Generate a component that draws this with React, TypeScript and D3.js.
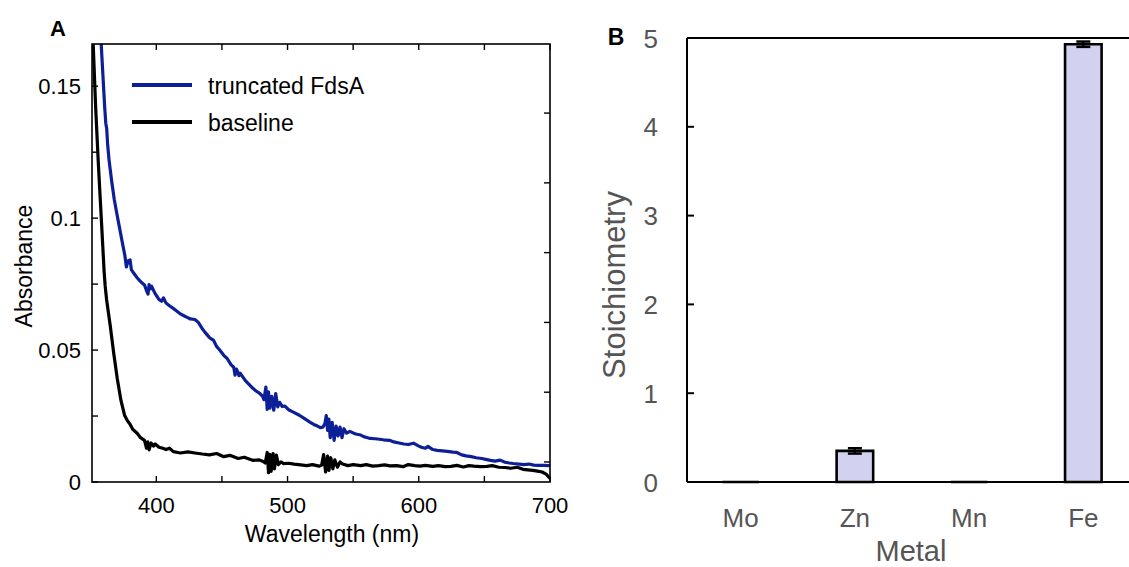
import React from "react";
import * as d3 from "d3";

// ---------- Panel A data ----------
const blueWl = [358, 360.7, 361.5, 362.2, 362.9, 364, 366, 368, 370.3, 372.5, 374.5, 376, 377.2, 378.5, 380, 381, 383, 385.4, 387, 389, 391, 392.5, 393.7, 394.5, 395.5, 396.4, 399, 402, 404, 405.5, 407.4, 410, 412.9, 415, 418.4, 421, 423.9, 426, 429.4, 432, 434.9, 437, 440.4, 442, 443.5, 445.9, 448, 451.4, 454, 456.9, 459, 460, 461, 462, 463, 464, 467.9, 471, 473.4, 476, 478.8, 481, 482, 483.5, 484.5, 485.5, 486.5, 488, 489.5, 491, 492.5, 494, 496, 498, 500.8, 504, 509, 513, 517.3, 520, 522.8, 525, 527, 528.5, 529.5, 530.5, 531.5, 532.5, 534, 535.5, 537, 538.5, 540, 541.5, 543, 545, 547.5, 550, 552, 555.8, 558, 561, 563, 566.8, 570, 573, 577.7, 581, 585, 588.7, 592, 596, 599.7, 602, 605, 607, 610.7, 614, 618, 621.7, 626, 629, 632.7, 636, 640, 643.7, 648, 651, 654.7, 658, 662, 665.7, 669, 672, 676.6, 680, 684, 687.6, 691, 695, 700];
const blueAbs = [0.166, 0.1418, 0.136, 0.134, 0.128, 0.122, 0.114, 0.107, 0.1007, 0.095, 0.0897, 0.086, 0.0815, 0.0838, 0.0842, 0.0805, 0.079, 0.0774, 0.0765, 0.0755, 0.0747, 0.0726, 0.0712, 0.0748, 0.0732, 0.0742, 0.0715, 0.0692, 0.0685, 0.0698, 0.0678, 0.0668, 0.0658, 0.065, 0.0637, 0.063, 0.0623, 0.0618, 0.0616, 0.0605, 0.0582, 0.0568, 0.0548, 0.0542, 0.0538, 0.0514, 0.0502, 0.048, 0.0468, 0.0445, 0.0435, 0.0405, 0.0428, 0.0418, 0.0403, 0.0412, 0.0384, 0.0368, 0.0356, 0.0345, 0.0336, 0.0325, 0.0312, 0.036, 0.0275, 0.0342, 0.028, 0.0325, 0.0272, 0.0335, 0.0285, 0.0302, 0.0286, 0.0288, 0.0274, 0.0266, 0.0253, 0.024, 0.0226, 0.0218, 0.0212, 0.0206, 0.0208, 0.0222, 0.0252, 0.0196, 0.0238, 0.0168, 0.0226, 0.0158, 0.0212, 0.0175, 0.0208, 0.0168, 0.0202, 0.0185, 0.0192, 0.0186, 0.0182, 0.0178, 0.0172, 0.0168, 0.0165, 0.0164, 0.0162, 0.016, 0.0158, 0.0152, 0.0148, 0.0144, 0.0142, 0.0147, 0.0137, 0.0132, 0.0128, 0.0135, 0.0123, 0.012, 0.0118, 0.0116, 0.0113, 0.0112, 0.0103, 0.0099, 0.0096, 0.0092, 0.0089, 0.0086, 0.0082, 0.0079, 0.0083, 0.0075, 0.0072, 0.007, 0.0068, 0.0066, 0.0068, 0.0064, 0.0063, 0.0063, 0.0062];

const blackWl = [351.9, 353.8, 355.8, 358, 360.2, 361, 362.1, 364.8, 367.6, 370.3, 373.1, 375.8, 378, 380, 382, 385.4, 388, 391, 392.5, 393.5, 394.5, 396, 398, 399.2, 402, 405, 407.4, 410, 413, 418.4, 424, 429.4, 435, 440.4, 446, 451.4, 456, 462.4, 467, 473.4, 478, 481.5, 483, 484.5, 485.5, 486.5, 487.5, 489, 490, 491.5, 493, 495, 497, 500.8, 505, 510, 514.6, 519, 524, 526, 527.5, 529, 530.5, 531.5, 533, 534.5, 536, 538, 540, 542, 546, 550, 555.8, 560, 565, 569.5, 574, 578, 583.2, 588, 592, 597, 601, 605, 610.7, 615, 620, 624.5, 629, 634, 638.2, 642, 647, 652, 656, 661, 665.7, 670, 675, 679.4, 683, 687, 690.4, 694, 697, 700];
const blackAbs = [0.166, 0.1418, 0.121, 0.1007, 0.0801, 0.0745, 0.0692, 0.0596, 0.0486, 0.039, 0.0308, 0.0253, 0.0232, 0.0219, 0.02, 0.0185, 0.0168, 0.0158, 0.0128, 0.0152, 0.0122, 0.0148, 0.0136, 0.0144, 0.0132, 0.0128, 0.0123, 0.0128, 0.0115, 0.011, 0.0114, 0.011, 0.0106, 0.0103, 0.0108, 0.0096, 0.0101, 0.0089, 0.0094, 0.0082, 0.0084, 0.0078, 0.0072, 0.0112, 0.0035, 0.0105, 0.004, 0.0108, 0.005, 0.0102, 0.0066, 0.0076, 0.007, 0.0071, 0.0068, 0.0065, 0.0062, 0.0066, 0.006, 0.0064, 0.0104, 0.0038, 0.0098, 0.0044, 0.0092, 0.005, 0.0084, 0.0056, 0.0076, 0.0068, 0.0062, 0.0066, 0.0062, 0.0066, 0.006, 0.0062, 0.0065, 0.0061, 0.0062, 0.0058, 0.0066, 0.0062, 0.006, 0.0063, 0.0059, 0.0062, 0.0058, 0.0059, 0.0063, 0.0057, 0.0062, 0.006, 0.0058, 0.0059, 0.0062, 0.0056, 0.0055, 0.0052, 0.0056, 0.0048, 0.0046, 0.0044, 0.0041, 0.0038, 0.003, 0.0014];

const xTicksA = [400, 500, 600, 700];
const xMinorA = [400, 450, 500, 550, 600, 650, 700];
const yTicksA = [0, 0.05, 0.1, 0.15];
const yMinorA = [0.025, 0.075, 0.125];
const rightTicksA = [0, 1, 2, 3, 4, 5];
const legendLabels = ["truncated FdsA", "baseline"];
const legendColors = ["#0d1f97", "#000000"];

// ---------- Panel B data ----------
const metals = ["Mo", "Zn", "Mn", "Fe"];
const stoich = [0, 0.35, 0, 4.93];
const stoichErr = [0, 0.03, 0, 0.03];
const yTicksB = [0, 1, 2, 3, 4, 5];

const FONT = "'Liberation Sans', Arial, Helvetica, sans-serif";

export default function App() {
  // Panel A geometry
  const aL = 92, aR = 550, aT = 44, aB = 482;
  const x = d3.scaleLinear().domain([351, 700]).range([aL, aR]);
  const y = d3.scaleLinear().domain([0, 0.166]).range([aB, aT]);
  const yRight = d3.scaleLinear().domain([-0.287, 5.99]).range([aB, aT]);
  const blueLine = d3.line<number>().x((_, i) => x(blueWl[i])).y((d) => y(d));
  const blackLine = d3.line<number>().x((_, i) => x(blackWl[i])).y((d) => y(d));

  // Panel B geometry
  const bL = 687, bR = 1137, bT = 38, bB = 482;
  const xb = d3.scalePoint<string>().domain(metals).range([bL, bR]).padding(0.47);
  const yb = d3.scaleLinear().domain([0, 5]).range([bB, bT]);
  const barW = xb.step() * 0.32;
  const tick = 6;

  return (
    <svg width={1129} height={567} style={{ position: "absolute", left: 0, top: 0, background: "#fff" }} fontFamily={FONT}>
      <defs>
        <clipPath id="clipA">
          <rect x={aL} y={aT} width={aR - aL} height={aB - aT} />
        </clipPath>
      </defs>
      {/* Panel A */}
      <text x={58} y={36} fontSize={22} fontWeight="bold" textAnchor="middle">A</text>
      <g clipPath="url(#clipA)">
        <path d={blackLine(blackAbs) || ""} fill="none" stroke={legendColors[1]} strokeWidth={3.2} strokeLinejoin="round" />
        <path d={blueLine(blueAbs) || ""} fill="none" stroke={legendColors[0]} strokeWidth={3.2} strokeLinejoin="round" />
      </g>
      <rect x={aL} y={aT} width={aR - aL} height={aB - aT} fill="none" stroke="#000" strokeWidth={1.6} />
      {xMinorA.map((t) => (
        <g key={"xa" + t}>
          <line x1={x(t)} x2={x(t)} y1={aB} y2={aB - tick} stroke="#000" strokeWidth={1.4} />
          <line x1={x(t)} x2={x(t)} y1={aT} y2={aT + tick} stroke="#000" strokeWidth={1.4} />
        </g>
      ))}
      {[...yTicksA, ...yMinorA].map((t) => (
        <line key={"ya" + t} x1={aL} x2={aL + tick} y1={y(t)} y2={y(t)} stroke="#000" strokeWidth={1.4} />
      ))}
      {rightTicksA.map((t) => (
        <line key={"yr" + t} x1={aR} x2={aR - tick} y1={yRight(t)} y2={yRight(t)} stroke="#000" strokeWidth={1.4} />
      ))}
      {xTicksA.map((t) => (
        <text key={"xl" + t} x={x(t)} y={513} fontSize={22} textAnchor="middle">{t}</text>
      ))}
      {yTicksA.map((t) => (
        <text key={"yl" + t} x={81} y={y(t) + 8} fontSize={22} textAnchor="end">{t === 0 ? "0" : String(t)}</text>
      ))}
      <text x={332} y={542} fontSize={23} textAnchor="middle">Wavelength (nm)</text>
      <text transform="translate(32,266) rotate(-90)" fontSize={23} textAnchor="middle">Absorbance</text>
      {legendLabels.map((lab, i) => (
        <g key={lab}>
          <line x1={132} x2={192} y1={85 + i * 37} y2={85 + i * 37} stroke={legendColors[i]} strokeWidth={3.8} />
          <text x={208} y={85 + i * 37 + 9} fontSize={23}>{lab}</text>
        </g>
      ))}

      {/* Panel B */}
      <text x={616} y={45} fontSize={23} fontWeight="bold" textAnchor="middle">B</text>
      {metals.map((m, i) => {
        const cx = xb(m) as number;
        const x0 = cx - barW / 2, x1 = cx + barW / 2;
        const yt = yb(stoich[i]);
        return (
          <g key={m}>
            <path d={`M${x0},${bB}L${x0},${yt}L${x1},${yt}L${x1},${bB}Z`} fill="#d2d2f0" stroke="#000" strokeWidth={2.6} />
            {stoichErr[i] > 0 && (
              <g stroke="#000" strokeWidth={2.5}>
                <line x1={cx} x2={cx} y1={yb(stoich[i] - stoichErr[i])} y2={yb(stoich[i] + stoichErr[i])} />
                <line x1={cx - 7} x2={cx + 7} y1={yb(stoich[i] + stoichErr[i])} y2={yb(stoich[i] + stoichErr[i])} />
                <line x1={cx - 7} x2={cx + 7} y1={yb(stoich[i] - stoichErr[i])} y2={yb(stoich[i] - stoichErr[i])} />
              </g>
            )}
            <text x={cx} y={527} fontSize={26} fill="#555" textAnchor="middle">{m}</text>
          </g>
        );
      })}
      <line x1={bL} x2={bR} y1={bB} y2={bB} stroke="#000" strokeWidth={1.8} />
      <line x1={bL} x2={bR} y1={bT} y2={bT} stroke="#000" strokeWidth={2} />
      <line x1={bL} x2={bL} y1={bT} y2={bB} stroke="#000" strokeWidth={2} />
      {yTicksB.map((t) => (
        <g key={"yb" + t}>
          <line x1={bL} x2={bL + 7} y1={yb(t)} y2={yb(t)} stroke="#000" strokeWidth={2} />
          <text x={658} y={yb(t) + 9.5} fontSize={26} fill="#555" textAnchor="end">{t}</text>
        </g>
      ))}
      <text transform="translate(625,285) rotate(-90)" fontSize={31} fill="#555" textAnchor="middle">Stoichiometry</text>
      <text x={911} y={561} fontSize={29} fill="#555" textAnchor="middle">Metal</text>
    </svg>
  );
}
